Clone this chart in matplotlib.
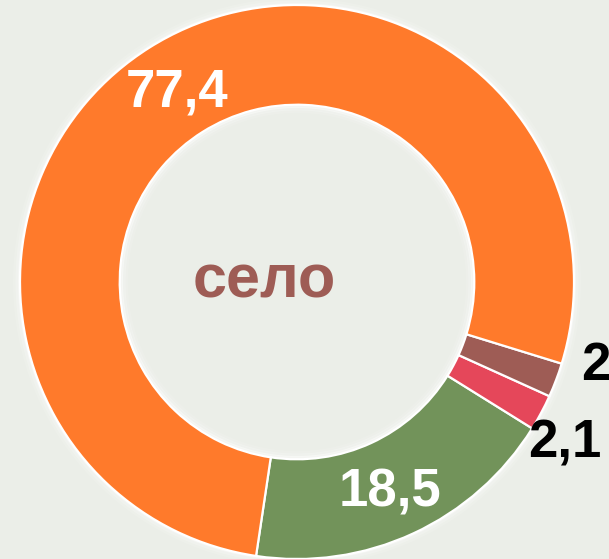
import matplotlib
matplotlib.use("Agg")
import matplotlib.pyplot as plt
import numpy as np
from matplotlib.patches import Circle

categories = ["green", "red", "brown", "orange"]
values = [18.5, 2.1, 2.0, 77.4]
label_texts = ["18,5", "2,1", "2", "77,4"]
colors = ["#72935A", "#E5475A", "#9E5C55", "#FF7A2B"]
label_colors = ["white", "black", "black", "white"]
label_dist = [0.83, 1.13, 1.12, 0.81]
label_angle_shift = [-1.0, -3.0, 5.0, 0.0]
center_text = "село"

bg = "#EBEEE8"
W, H = 609, 559
fig = plt.figure(figsize=(W / 100, H / 100), dpi=100, facecolor=bg)
ax = fig.add_axes([0, 0, 1, 1])
ax.set_facecolor(bg)

cx, cy = 297, H - 282
R = 277
width = 0.36
rin = R * (1 - width)

# soft white glow around the ring
for i, a in enumerate([0.12, 0.2, 0.35]):
    ax.add_patch(Circle((cx, cy), R + 7 - 2.5 * i, facecolor="white", edgecolor="none", alpha=a, zorder=0))

wedges, _ = ax.pie(values, colors=colors, startangle=-98.5, counterclock=True,
                   radius=R, center=(cx, cy), frame=True,
                   wedgeprops=dict(width=R * width, edgecolor="white", linewidth=1.6))
for w in wedges:
    w.set_zorder(2)

# centre disc in background colour, with inner glow
ax.add_patch(Circle((cx, cy), rin - 0.5, facecolor=bg, edgecolor="none", zorder=1))
for i, a in enumerate([0.45, 0.22, 0.1]):
    ax.add_patch(Circle((cx, cy), rin - 1.5 - 2.5 * i, facecolor="none", edgecolor="white",
                        linewidth=2.5, alpha=a, zorder=3))

ax.set_xlim(0, W)
ax.set_ylim(0, H)
ax.set_aspect("equal")
ax.axis("off")

for w, txt, col, d, s in zip(wedges, label_texts, label_colors, label_dist, label_angle_shift):
    ang = np.deg2rad((w.theta1 + w.theta2) / 2 + s)
    x = cx + R * d * np.cos(ang)
    y = cy + R * d * np.sin(ang)
    ax.text(x, y, txt, ha="center", va="center", fontsize=38, fontweight="bold",
            color=col, family="Liberation Sans", zorder=5, clip_on=True)

ax.text(cx - 33, cy, center_text, ha="center", va="center", fontsize=44, fontweight="bold",
        color="#9E5C55", family="Liberation Sans", zorder=5)

fig.savefig("out.png", dpi=100, facecolor=bg)
